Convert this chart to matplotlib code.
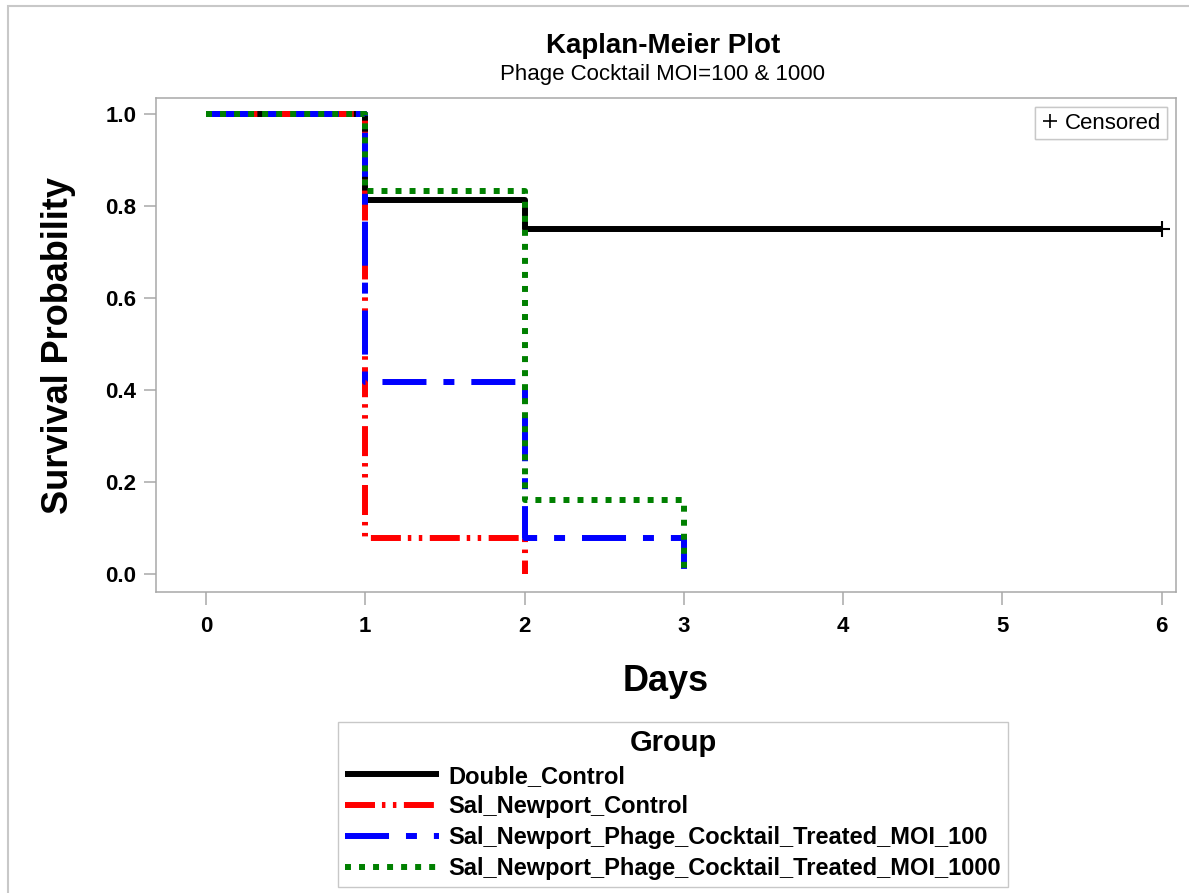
import matplotlib
matplotlib.use("Agg")
import matplotlib.pyplot as plt
from matplotlib.lines import Line2D
from matplotlib.patches import Rectangle

plt.rcParams["font.family"] = ["Liberation Sans", "DejaVu Sans"]
plt.rcParams["lines.scale_dashes"] = False

# ---- data (Kaplan-Meier step curves) ----
groups = ["Double_Control", "Sal_Newport_Control",
          "Sal_Newport_Phage_Cocktail_Treated_MOI_100",
          "Sal_Newport_Phage_Cocktail_Treated_MOI_1000"]
days_double = [0, 1, 2, 6]
surv_double = [1.0, 0.8125, 0.75, 0.75]
days_ctrl = [0, 1, 2]
surv_ctrl = [1.0, 0.077, 0.0]
days_moi100 = [0, 1, 2, 3]
surv_moi100 = [1.0, 0.4167, 0.077, 0.0]
days_moi1000 = [0, 1, 2, 3]
surv_moi1000 = [1.0, 0.8333, 0.16, 0.0]
censor_days = [6]
censor_surv = [0.75]

x_ticks = [0, 1, 2, 3, 4, 5, 6]
y_ticks = [0.0, 0.2, 0.4, 0.6, 0.8, 1.0]

# ---- styles ----
lw = 4.3
styles = [
    dict(color="black", linestyle="-"),
    dict(color="#ff0000", dashes=(21.6, 5, 2.5, 5.4, 2.5, 5.4)),
    dict(color="#0000ff", dashes=(31.7, 12.2, 7.9, 12.2)),
    dict(color="#008000", dashes=(4.3, 5.8)),
]

fig = plt.figure(figsize=(11.89, 8.93), dpi=100)
ax = fig.add_axes([0.1312, 0.337, 0.8578, 0.553])

curves = [(days_double, surv_double), (days_ctrl, surv_ctrl),
          (days_moi100, surv_moi100), (days_moi1000, surv_moi1000)]
handles = []
for (d, s), st, name in zip(curves, styles, groups):
    ln, = ax.step(d, s, where="post", lw=lw, label=name,
                  solid_capstyle="butt", dash_capstyle="butt", **st)
    handles.append(ln)

ax.plot(censor_days, censor_surv, linestyle="none", marker="+",
        markersize=12, mew=1.5, color="black")

ax.set_xlim(-0.314, 6.09)
ax.set_ylim(-0.04, 1.035)
ax.set_xticks(x_ticks)
ax.set_yticks(y_ticks)
ax.set_xticklabels([str(t) for t in x_ticks], fontsize=16, fontweight="bold")
ax.set_yticklabels([f"{t:.1f}" for t in y_ticks], fontsize=16, fontweight="bold")
ax.tick_params(length=9, width=1.1, color="#a8a8a8", pad=5)
ax.tick_params(axis="x", pad=8)
for sp in ax.spines.values():
    sp.set_color("#a8a8a8")
    sp.set_linewidth(1.1)

ax.set_xlabel("Days", fontsize=26, fontweight="bold", labelpad=20)
ax.set_ylabel("Survival Probability", fontsize=26, fontweight="bold")
ax.yaxis.set_label_coords(-0.078, 0.5)

# titles
fig.text(0.5575, 0.948, "Kaplan-Meier Plot", ha="center", va="center",
         fontsize=20, fontweight="bold")
fig.text(0.5575, 0.928, "Phage Cocktail MOI=100 & 1000", ha="center",
         va="top", fontsize=16)

# censored legend inside plot
cens = Line2D([], [], linestyle="none", marker="+", markersize=10,
              mew=1.2, color="black")
leg1 = ax.legend([cens], ["Censored"], loc="upper right", fontsize=16,
                 handlelength=0.8, handletextpad=0.3, borderpad=0.25,
                 borderaxespad=0.4, fancybox=False, framealpha=1,
                 edgecolor="#c8c8c8")
leg1.get_frame().set_linewidth(1.0)
ax.add_artist(leg1)

# group legend below
leg2 = fig.legend(handles=handles, labels=groups, loc="upper center",
                  bbox_to_anchor=(0.566, 0.205), title="Group",
                  title_fontproperties={"size": 21, "weight": "bold"},
                  prop={"size": 17, "weight": "bold"},
                  handlelength=4.0, handletextpad=0.4, labelspacing=0.33,
                  borderpad=0.3, fancybox=False, framealpha=1,
                  edgecolor="#c8c8c8")
leg2.get_frame().set_linewidth(1.0)

# outer frame of the graph
fig.add_artist(Rectangle((0.0067, -0.02), 1.1, 1.0133, transform=fig.transFigure,
                         fill=False, edgecolor="#c8c8c8", lw=1.5))

fig.savefig("out.png", dpi=100)
